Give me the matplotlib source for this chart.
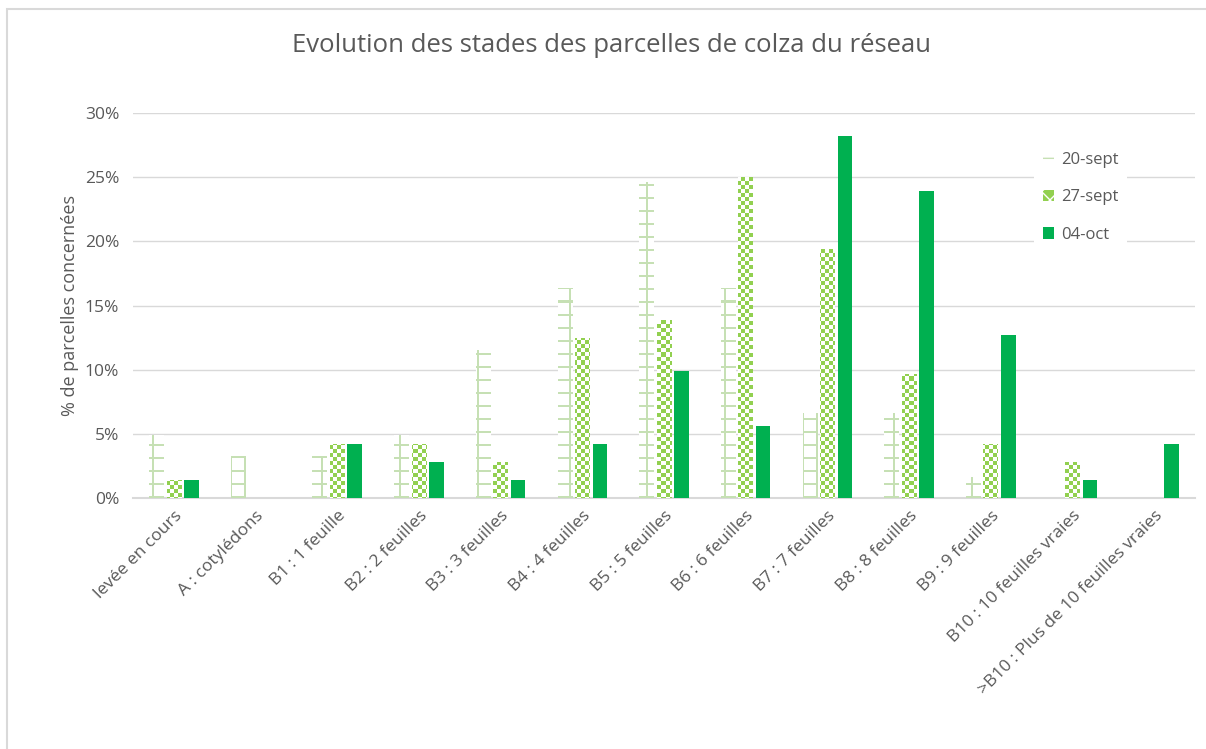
import numpy as np
import matplotlib
matplotlib.use("Agg")
import matplotlib.pyplot as plt
from matplotlib.patches import Rectangle, Patch

categories = ["levée en cours", "A : cotylédons", "B1 : 1 feuille", "B2 : 2 feuilles",
              "B3 : 3 feuilles", "B4 : 4 feuilles", "B5 : 5 feuilles", "B6 : 6 feuilles",
              "B7 : 7 feuilles", "B8 : 8 feuilles", "B9 : 9 feuilles",
              "B10 : 10 feuilles vraies", ">B10 : Plus de 10 feuilles vraies"]
series_names = ["20-sept", "27-sept", "04-oct"]
sept20 = [4.9, 3.3, 3.3, 4.9, 11.5, 16.4, 24.6, 16.4, 6.6, 6.6, 1.6, 0.0, 0.0]
sept27 = [1.4, 0.0, 4.2, 4.2, 2.8, 12.5, 13.9, 25.0, 19.4, 9.7, 4.2, 2.8, 0.0]
oct04 = [1.4, 0.0, 4.2, 2.8, 1.4, 4.2, 9.9, 5.6, 28.2, 23.9, 12.7, 1.4, 4.2]
yticks = [0, 5, 10, 15, 20, 25, 30]
ytick_labels = ["0%", "5%", "10%", "15%", "20%", "25%", "30%"]

GRID_GREEN = "#c6e0b4"
CHECK_GREEN = "#92d050"
SOLID_GREEN = "#00b050"
TXT = "#595959"

plt.rcParams['font.family'] = ['Open Sans', 'DejaVu Sans']

W, H = 1206, 749
fig = plt.figure(figsize=(W / 100, H / 100), dpi=100)
fig.patch.set_facecolor("white")
# outer chart border
fig.add_artist(Rectangle((7 / W, -0.01), 1.02, 1 - 9 / H + 0.01, transform=fig.transFigure,
                         fill=False, edgecolor="#d9d9d9", linewidth=1.5))

ax_l, ax_r, ax_b, ax_t = 133, 1195, 498, 113
ax = fig.add_axes([ax_l / W, 1 - ax_b / H, (ax_r - ax_l) / W, (ax_b - ax_t) / H])
n = len(categories)
ax.set_xlim(-0.5, n - 0.5)
ax.set_ylim(0, 30)

x = np.arange(n)
off = 0.214
bw = 0.178

b1 = ax.bar(x - off, sept20, bw, color="white", linewidth=0, zorder=3)
b2 = ax.bar(x, sept27, bw, color="white", linewidth=0, zorder=3)
b3 = ax.bar(x + off, oct04, bw, color=SOLID_GREEN, linewidth=0, zorder=3)

# pattern images (pixel based)
aw, ah = ax_r - ax_l, ax_b - ax_t
def rgba(c):
    return np.array(matplotlib.colors.to_rgba(c))

# checkerboard, 4px cells
cell = 4
yy, xx = np.mgrid[0:ah, 0:aw]
chk = ((yy // cell + xx // cell) % 2 == 0)
chk_img = np.ones((ah, aw, 4))
chk_img[chk] = rgba(CHECK_GREEN)

# grid pattern: lines every 13 px, 2 px wide
step = 13
gmask = (((xx + 7) % step) < 2) | (((ah - 1 - yy) % step) < 2)
grid_img = np.ones((ah, aw, 4))
grid_img[gmask] = rgba(GRID_GREEN)

ext = (-0.5, n - 0.5, 0, 30)
for bars, img in ((b1, grid_img), (b2, chk_img)):
    for p in bars:
        if p.get_height() <= 0:
            continue
        im = ax.imshow(img, extent=ext, origin="upper", interpolation="nearest",
                       aspect="auto", zorder=3.5)
        im.set_clip_path(p)

ax.set_xlim(-0.5, n - 0.5)
ax.set_ylim(0, 30)

ax.set_yticks(yticks)
ax.set_yticklabels(ytick_labels)
ax.set_xticks(x)
ax.set_xticklabels(categories, rotation=45, ha="right", rotation_mode="anchor")
ax.tick_params(axis="both", length=0, colors=TXT, labelsize=12.5)
ax.tick_params(axis="x", pad=7)
ax.tick_params(axis="y", pad=10)
for s in ["top", "right", "left"]:
    ax.spines[s].set_visible(False)
ax.spines["bottom"].set_color("#d9d9d9")
ax.spines["bottom"].set_linewidth(1.5)
ax.yaxis.grid(True, color="#d9d9d9", linewidth=1)
ax.set_axisbelow(True)

ax.set_ylabel("% de parcelles concernées", color=TXT, fontsize=13, labelpad=4)
fig.text(0.5 * (290 + 932) / W, 1 - 45 / H, "Evolution des stades des parcelles de colza du réseau",
         ha="center", va="center", fontsize=18.5, color=TXT)

# legend
h1 = Patch(facecolor="white", edgecolor=GRID_GREEN, hatch="+", linewidth=0)
h2 = Patch(facecolor=CHECK_GREEN, edgecolor="white", hatch="xx", linewidth=0)
h3 = Patch(facecolor=SOLID_GREEN, linewidth=0)
leg = ax.legend([h1, h2, h3], series_names, loc="upper left",
                bbox_to_anchor=((1026 - ax_l) / aw, (ax_b - 135) / ah),
                frameon=True, framealpha=1, edgecolor="none", facecolor="white",
                fontsize=12, labelcolor=TXT, handlelength=0.7, handleheight=0.7,
                handletextpad=0.4, labelspacing=1.3, borderpad=0.5, fancybox=False)
leg.set_zorder(10)

fig.savefig("out.png", dpi=100)
